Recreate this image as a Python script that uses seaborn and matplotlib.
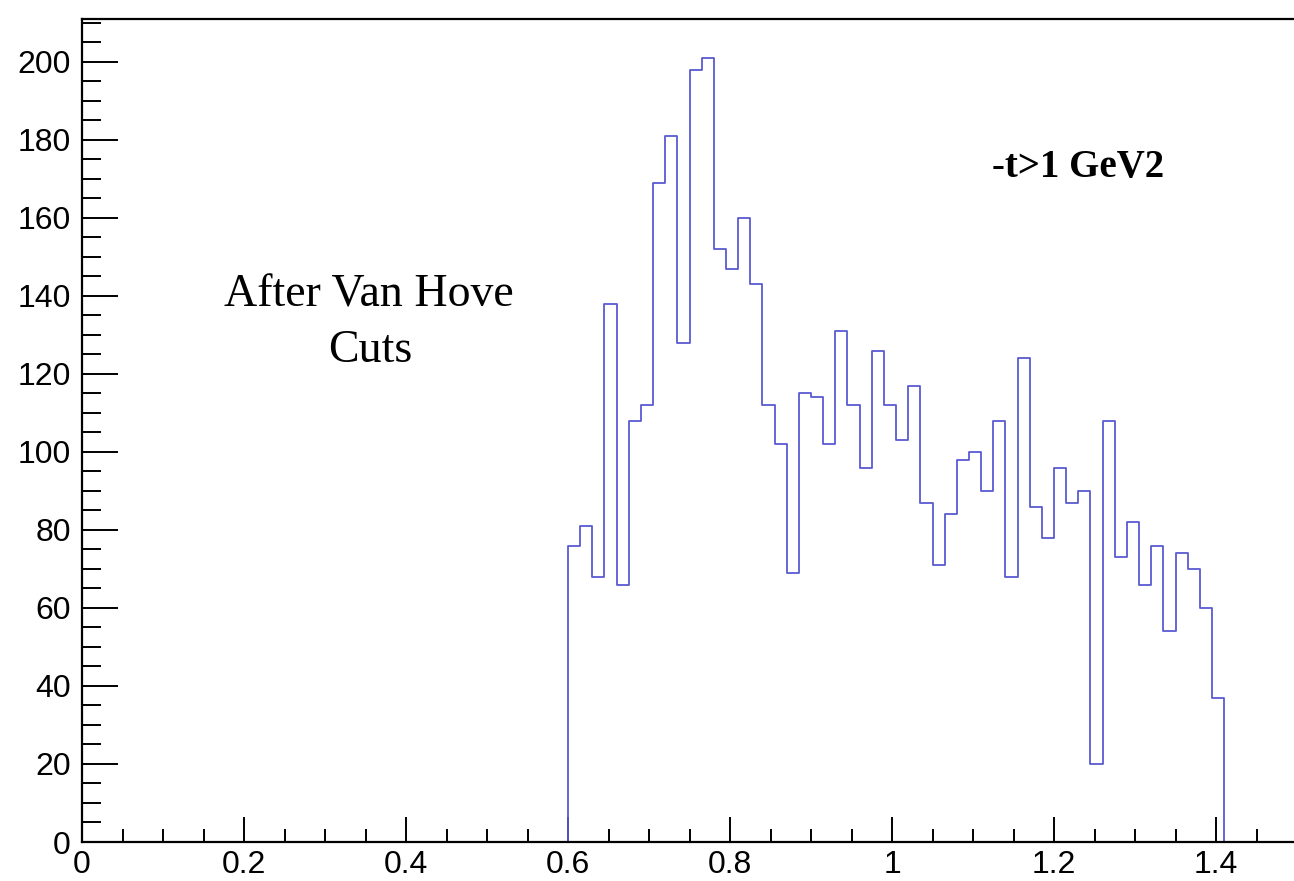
import numpy as np
import pandas as pd
import matplotlib
matplotlib.use("Agg")
import matplotlib.pyplot as plt
import seaborn as sns
from matplotlib.ticker import MultipleLocator

# ---- data ----
bin_start = 0.6
bin_width = 0.015
counts = [76, 81, 68, 138, 66, 108, 112, 169, 181, 128,
          198, 201, 152, 147, 160, 143, 112, 102, 69, 115,
          114, 102, 131, 112, 96, 126, 112, 103, 117, 87,
          71, 84, 98, 100, 90, 108, 68, 124, 86, 78,
          96, 87, 90, 20, 108, 73, 82, 66, 76, 54,
          74, 70, 60, 37]
x_ticks = [0, 0.2, 0.4, 0.6, 0.8, 1, 1.2, 1.4]
x_tick_labels = ["0", "0.2", "0.4", "0.6", "0.8", "1", "1.2", "1.4"]
y_ticks = [0, 20, 40, 60, 80, 100, 120, 140, 160, 180, 200]
label_main = "After Van Hove"
label_main2 = "Cuts"
label_cut = "-t>1 GeV2"

n = len(counts)
bin_end = bin_start + n * bin_width
centers = bin_start + bin_width * (np.arange(n) + 0.5)
df = pd.DataFrame({"x": centers, "w": counts})

sns.set_style("ticks")
plt.rcParams["font.family"] = ["Liberation Sans", "DejaVu Sans"]

fig = plt.figure(figsize=(12.94, 8.81), dpi=100)
ax = fig.add_axes([82 / 1294, 39 / 881, 1215 / 1294, 823 / 881])

line_color = "#5a5ad2"
sns.histplot(data=df, x="x", weights="w", bins=n, binrange=(bin_start, bin_end),
             element="step", fill=True, color=line_color, facecolor="none",
             edgecolor=line_color, linewidth=1.3, ax=ax)

ax.set_xlim(0, 1.5)
ax.set_ylim(0, 211)
ax.set_xticks(x_ticks)
ax.set_xticklabels(x_tick_labels)
ax.set_yticks(y_ticks)
ax.xaxis.set_minor_locator(MultipleLocator(0.05))
ax.yaxis.set_minor_locator(MultipleLocator(5))
ax.tick_params(axis="x", which="major", direction="in", length=18, width=1.4,
               labelsize=23, pad=6, color="black", labelcolor="black")
ax.tick_params(axis="x", which="minor", direction="in", length=9.5, width=1.4,
               color="black")
ax.tick_params(axis="y", which="major", direction="in", length=26, width=1.4,
               labelsize=23, pad=8, color="black", labelcolor="black")
ax.tick_params(axis="y", which="minor", direction="in", length=13.5, width=1.4,
               color="black")
ax.set_xlabel("")
ax.set_ylabel("")
for s in ["left", "bottom", "top"]:
    ax.spines[s].set_visible(True)
    ax.spines[s].set_linewidth(1.6)
    ax.spines[s].set_color("black")
    ax.spines[s].set_zorder(3)
ax.spines["right"].set_visible(False)

ax.text(0.354, 137.2, label_main, ha="center", va="baseline", fontsize=33,
        family=["Liberation Serif", "DejaVu Serif"], color="black")
ax.text(0.356, 123.0, label_main2, ha="center", va="baseline", fontsize=33,
        family=["Liberation Serif", "DejaVu Serif"], color="black")
ax.text(1.23, 170.5, label_cut, ha="center", va="baseline", fontsize=28,
        fontweight="bold", family=["Liberation Serif", "DejaVu Serif"],
        color="black")

fig.savefig("out.png", dpi=100)
